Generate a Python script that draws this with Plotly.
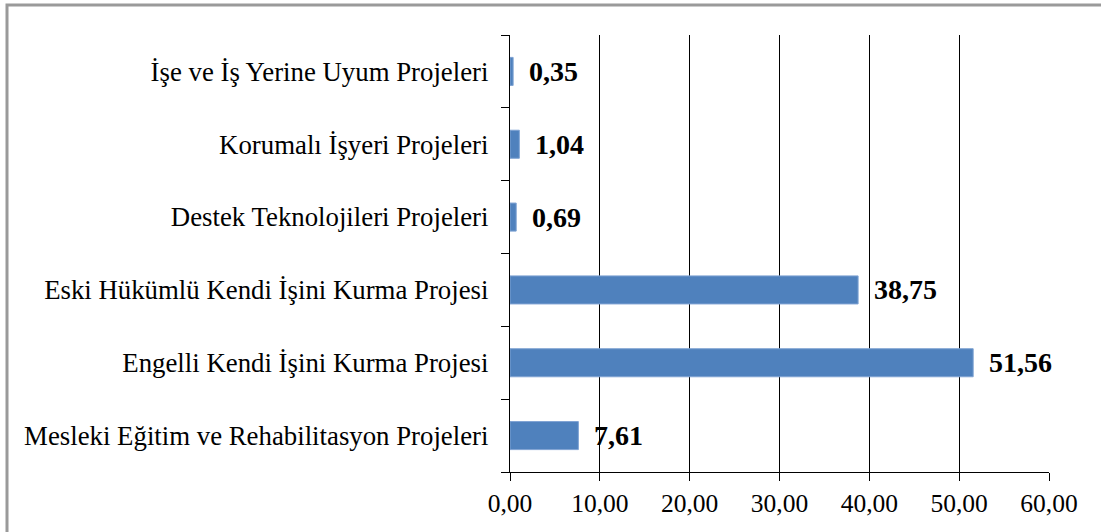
import plotly.graph_objects as go

categories = [
    "Mesleki Eğitim ve Rehabilitasyon Projeleri",
    "Engelli Kendi İşini Kurma Projesi",
    "Eski Hükümlü Kendi İşini Kurma Projesi",
    "Destek Teknolojileri Projeleri",
    "Korumalı İşyeri Projeleri",
    "İşe ve İş Yerine Uyum Projeleri",
]
values = [7.61, 51.56, 38.75, 0.69, 1.04, 0.35]
x_ticks = [0, 10, 20, 30, 40, 50, 60]
x_tick_labels = ["0,00", "10,00", "20,00", "30,00", "40,00", "50,00", "60,00"]
value_labels = [f"{v:.2f}".replace(".", ",") for v in values]

FONT = "Liberation Serif, Times New Roman, serif"

fig = go.Figure()
fig.add_trace(go.Bar(
    x=values, y=categories, orientation="h",
    marker=dict(color="#4F81BD", line=dict(color="#7FA3D3", width=1)),
    hoverinfo="skip",
))

for c, v, lab in zip(categories, values, value_labels):
    fig.add_annotation(
        x=v, y=c, text=f"<b>{lab}</b>", showarrow=False,
        xanchor="left", yanchor="middle", xshift=14,
        font=dict(family=FONT, size=28, color="black"),
    )

ml, mr, mt, mb = 510, 52, 35, 60
W, H = 1101, 532
pw, ph = W - ml - mr, H - mt - mb

fig.add_shape(
    type="rect", xref="paper", yref="paper",
    x0=(7 - ml) / pw, x1=(1110 - ml) / pw,
    y0=(mt + ph - 540) / ph, y1=1 + (mt - 5) / ph,
    line=dict(color="#9a9a9a", width=3), fillcolor="rgba(0,0,0,0)", layer="below",
)

fig.update_layout(
    width=W, height=H,
    margin=dict(l=ml, r=mr, t=mt, b=mb, pad=0),
    paper_bgcolor="white", plot_bgcolor="white",
    showlegend=False, bargap=0.615,
    font=dict(family=FONT, size=25, color="black"),
    xaxis=dict(
        range=[0, 60], tickvals=x_ticks, ticktext=x_tick_labels,
        showgrid=True, gridcolor="black", gridwidth=1.3,
        showline=True, linecolor="black", linewidth=1.3,
        ticks="outside", ticklen=8, tickcolor="black", tickwidth=1.3,
        zeroline=False, tickfont=dict(family=FONT, size=25.5, color="black"),
        fixedrange=True,
    ),
    yaxis=dict(
        categoryorder="array", categoryarray=categories,
        showgrid=False, showline=True, linecolor="black", linewidth=1.3,
        ticks="outside", ticklen=8, tickcolor="black", tickwidth=1.3,
        tickson="boundaries", ticklabelstandoff=15,
        tickfont=dict(family=FONT, size=26.8, color="black"),
        fixedrange=True,
    ),
)

fig.write_html(
    "out.html",
    config={"displayModeBar": False},
    post_script="document.body.style.margin='0';document.body.style.overflow='hidden';",
)
